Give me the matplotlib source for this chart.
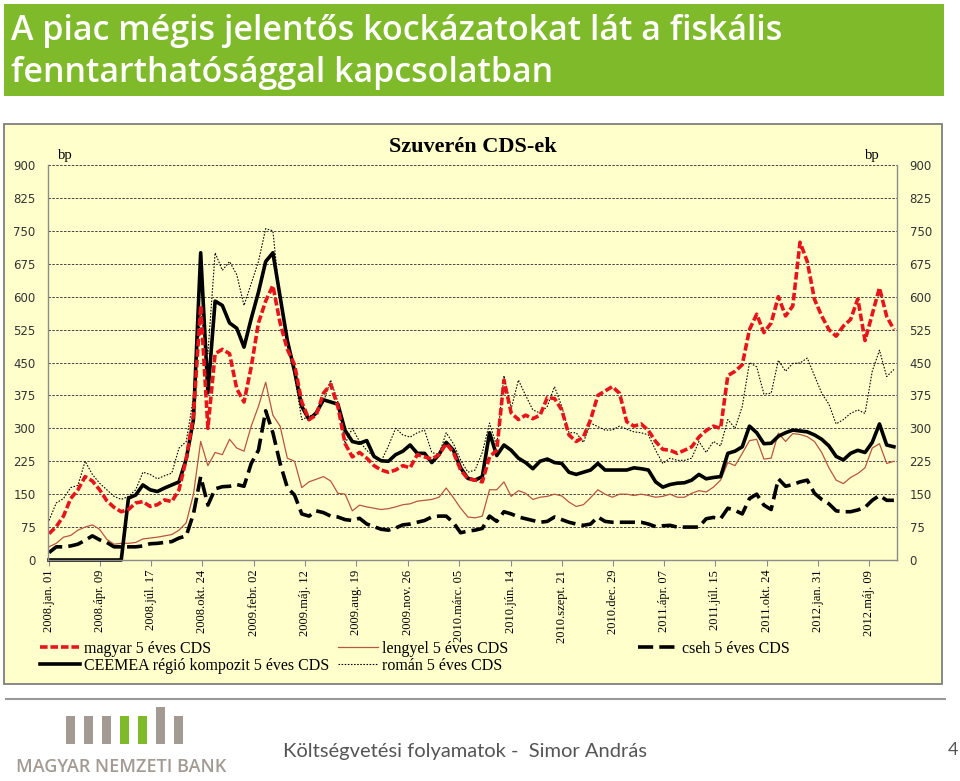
# szuveren-cds.py
import matplotlib
matplotlib.use("Agg")
import matplotlib.pyplot as plt
from matplotlib.patches import Rectangle
from matplotlib.lines import Line2D
import matplotlib.dates as mdates
import pandas as pd

W, H = 960, 781

# --- data (bp), one value every 14 days from 2008-01-01 ---
start_date = "2008-01-01"
step_days = 14

magyar = [
    60, 76, 100, 140, 160, 190, 180, 160, 135, 120,
    110, 115, 130, 133, 122, 126, 137, 133, 160, 230,
    330, 580, 300, 470, 480, 470, 390, 360, 440, 540,
    590, 625, 540, 480, 445, 360, 320, 330, 380, 400,
    350, 265, 235, 245, 232, 215, 205, 200, 205, 215,
    210, 240, 235, 230, 240, 265, 245, 205, 185, 182,
    178, 235, 250, 410, 335, 320, 330, 322, 330, 370,
    368, 342, 285, 270, 280, 320, 375, 385, 395, 380,
    315, 305, 310, 295, 270, 252, 250, 243, 250, 258,
    280, 295, 305, 300, 420, 430, 445, 525, 560, 518,
    540, 600, 556, 579, 724, 680, 594, 556, 525, 510,
    533, 548, 595, 500, 560, 620, 555, 525,
]
ceemea = [
    0, 0, 0, 0, 0, 0, 0, 0, 0, 0,
    0, 141, 148, 171, 160, 156, 164, 171, 178, 230,
    320, 700, 381, 590, 580, 540, 528, 485, 550, 610,
    680, 700, 600, 500, 430, 350, 320, 335, 365, 360,
    355, 295, 270, 266, 272, 236, 226, 225, 240, 248,
    262, 243, 243, 222, 240, 268, 250, 210, 186, 182,
    190, 290, 238, 262, 250, 232, 222, 208, 225, 230,
    222, 220, 200, 195, 200, 205, 220, 205, 205, 205,
    205, 210, 208, 205, 178, 166, 172, 175, 176, 182,
    195, 185, 188, 190, 243, 248, 258, 305, 290, 265,
    266, 282, 290, 296, 294, 292, 285, 275, 260, 236,
    228, 243, 250, 245, 268, 310, 262, 258,
]
lengyel = [
    30, 38, 52, 56, 68, 75, 80, 70, 47, 36,
    38, 38, 40, 48, 50, 52, 55, 58, 68, 85,
    150, 270, 215, 245, 240, 275, 255, 248, 305, 350,
    405, 330, 305, 232, 225, 165, 178, 184, 190, 180,
    152, 150, 112, 125, 121, 118, 115, 117, 121, 126,
    128, 134, 136, 138, 143, 164, 142, 118, 98, 96,
    100, 160, 160, 178, 145, 158, 152, 138, 143, 145,
    150, 146, 132, 122, 126, 142, 160, 150, 143, 150,
    150, 147, 150, 147, 143, 145, 150, 143, 143, 152,
    158, 155, 166, 182, 222, 215, 243, 272, 275, 230,
    232, 289, 270, 288, 286, 281, 270, 245, 210, 182,
    174, 188, 197, 210, 255, 265, 220, 225,
]
roman = [
    90, 130, 140, 165, 170, 225, 195, 175, 160, 145,
    138, 145, 160, 200, 195, 185, 192, 198, 255, 270,
    370, 560, 470, 700, 660, 680, 650, 580, 630, 680,
    755, 750, 590, 500, 420, 320, 327, 335, 360, 410,
    360, 265, 300, 270, 250, 235, 225, 260, 300, 285,
    280, 290, 296, 245, 240, 290, 265, 228, 200, 205,
    245, 312, 260, 420, 345, 410, 375, 342, 335, 350,
    395, 350, 290, 290, 268, 312, 304, 296, 296, 305,
    298, 292, 290, 285, 250, 220, 232, 227, 227, 232,
    270, 245, 270, 260, 320, 300, 350, 450, 440, 378,
    380, 455, 430, 448, 449, 460, 420, 380, 355, 310,
    320, 334, 342, 334, 430, 478, 418, 434,
]
cseh = [
    17, 30, 30, 32, 36, 45, 55, 46, 40, 30,
    30, 30, 30, 32, 37, 38, 40, 42, 50, 55,
    105, 190, 125, 162, 167, 168, 172, 168, 220, 250,
    340, 290, 220, 165, 148, 105, 100, 112, 108, 100,
    98, 92, 90, 95, 82, 76, 70, 68, 73, 80,
    82, 86, 90, 98, 100, 100, 85, 62, 66, 68,
    72, 100, 88, 110, 105, 98, 94, 90, 86, 88,
    98, 92, 86, 82, 79, 82, 98, 88, 86, 86,
    86, 86, 86, 82, 76, 78, 79, 75, 75, 75,
    75, 94, 97, 94, 118, 113, 105, 140, 150, 125,
    115, 185, 168, 172, 178, 182, 152, 138, 128, 112,
    110, 110, 114, 120, 136, 147, 136, 136,
]

tick_dates = [
    "2008-01-01", "2008-04-09", "2008-07-17", "2008-10-24", "2009-02-02",
    "2009-05-12", "2009-08-19", "2009-11-26", "2010-03-05", "2010-06-14",
    "2010-09-21", "2010-12-29", "2011-04-07", "2011-07-15", "2011-10-24",
    "2012-01-31", "2012-05-09",
]
tick_labels = [
    "2008.jan. 01", "2008.ápr. 09", "2008.júl. 17", "2008.okt. 24",
    "2009.febr. 02", "2009.máj. 12", "2009.aug. 19", "2009.nov. 26",
    "2010.márc. 05", "2010.jún. 14", "2010.szept. 21", "2010.dec. 29",
    "2011.ápr. 07", "2011.júl. 15", "2011.okt. 24", "2012.jan. 31",
    "2012.máj. 09",
]
y_ticks = list(range(0, 901, 75))

GREEN = "#7FBA2A"
PANEL = "#FFFFCC"
LOGO_GRAY = "#A39B93"
SERIF = "Liberation Serif"


def fx(px):
    return px / W


def fy(py):
    return 1 - py / H


def fig_rect(fig, x0, y0, x1, y1, **kw):
    """Rectangle given in pixel coords (top-left origin)."""
    r = Rectangle((fx(x0), fy(y1)), (x1 - x0) / W, (y1 - y0) / H,
                  transform=fig.transFigure, **kw)
    fig.add_artist(r)
    return r


fig = plt.figure(figsize=(W / 100, H / 100), dpi=100)

# header banner
fig_rect(fig, 4, 4, 944, 96, facecolor=GREEN, edgecolor="none", zorder=-5)
fig.text(fx(11), fy(40), "A piac mégis jelentős kockázatokat lát a fiskális",
         color="white", fontsize=24.5, family="Open Sans", weight="semibold",
         va="baseline")
fig.text(fx(11), fy(82), "fenntarthatósággal kapcsolatban",
         color="white", fontsize=24.5, family="Open Sans", weight="semibold",
         va="baseline")

# chart panel
fig_rect(fig, 4, 124, 942, 684, facecolor=PANEL, edgecolor="#7f7f7f",
         linewidth=1.3, zorder=-5)

ax = fig.add_axes([fx(48), fy(560), (897 - 48) / W, (560 - 165) / H])
ax.patch.set_visible(False)

dates = pd.date_range(start_date, periods=len(magyar), freq=f"{step_days}D")

l_lengyel, = ax.plot(dates, lengyel, color="#B8563F", lw=0.9,
                     label="lengyel 5 éves CDS", clip_on=False)
l_roman, = ax.plot(dates, roman, color="black", lw=0.8,
                   linestyle=(0, (1.4, 1.4)), label="román 5 éves CDS",
                   clip_on=False)
l_cseh, = ax.plot(dates, cseh, color="black", lw=2.6,
                  linestyle=(0, (4.2, 1.7)), label="cseh 5 éves CDS",
                  clip_on=False)
l_ceemea, = ax.plot(dates, ceemea, color="black", lw=2.6,
                    label="CEEMEA régió kompozit 5 éves CDS", clip_on=False)
l_magyar, = ax.plot(dates, magyar, color="#E8141B", lw=2.6,
                    linestyle=(0, (2.1, 0.8)), label="magyar 5 éves CDS",
                    clip_on=False)

ax.set_ylim(0, 900)
ax.set_xlim(pd.Timestamp("2007-12-30"), pd.Timestamp("2012-07-02"))
ax.set_yticks(y_ticks)
ax.grid(axis="y", color="#444444", linestyle=(0, (2.5, 1.5)), linewidth=0.7)
ax.set_axisbelow(True)
ax.tick_params(axis="y", length=0, pad=9, labelleft=True, labelright=True,
               labelsize=8.5, labelcolor="#333333")

ax.set_xticks([mdates.date2num(pd.Timestamp(d)) for d in tick_dates])
ax.set_xticklabels(tick_labels, rotation=90, family=SERIF, fontsize=9,
                   va="top", ha="center")
ax.tick_params(axis="x", length=4, color="#8c8c8c", pad=3)

for side in ("left", "right", "bottom"):
    ax.spines[side].set_color("#8c8c8c")
    ax.spines[side].set_linewidth(1.0)
ax.spines["top"].set_visible(False)

# chart title and units
fig.text(fx(473), fy(147), "Szuverén CDS-ek", ha="center", va="center",
         family=SERIF, weight="bold", fontsize=16)
fig.text(fx(58), fy(155), "bp", ha="left", va="center", family=SERIF,
         fontsize=10.5)
fig.text(fx(865), fy(155), "bp", ha="left", va="center", family=SERIF,
         fontsize=10.5)

# legend: three manual columns
leg_kw = dict(loc="upper left", frameon=False, handlelength=2.5,
              handletextpad=0.25, labelspacing=0.05, borderpad=0,
              borderaxespad=0, prop={"family": SERIF, "size": 11.5})
fig.legend(handles=[l_magyar, l_ceemea], bbox_to_anchor=(fx(40), fy(641)),
           **leg_kw)
fig.legend(handles=[l_lengyel, l_roman], bbox_to_anchor=(fx(338), fy(641)),
           **leg_kw)
fig.legend(handles=[l_cseh], bbox_to_anchor=(fx(638), fy(641)), **leg_kw)

# footer
fig.add_artist(Line2D([fx(6), fx(945)], [fy(699), fy(699)],
                      transform=fig.transFigure, color="#999999", lw=1.5))
bar_x = [66, 84, 102, 120, 138, 156, 174]
bar_top = [716, 716, 716, 716, 716, 707, 716]
bar_col = [LOGO_GRAY, LOGO_GRAY, LOGO_GRAY, GREEN, GREEN, LOGO_GRAY, LOGO_GRAY]
for bx, bt, bc in zip(bar_x, bar_top, bar_col):
    fig_rect(fig, bx, bt, bx + 9, 744, facecolor=bc, edgecolor="none")
fig.text(fx(16), fy(767), "MAGYAR NEMZETI BANK", color=LOGO_GRAY,
         fontsize=13, family="Open Sans", weight="semibold", va="center",
         ha="left")
fig.text(fx(283), fy(752), "Költségvetési folyamatok -  Simor András",
         color="#555555", fontsize=14.5, family="Lato", va="center", ha="left")
fig.text(fx(958), fy(750), "4", color="#555555", fontsize=13, family="Lato",
         va="center", ha="right")

fig.savefig("out.png", dpi=100)
